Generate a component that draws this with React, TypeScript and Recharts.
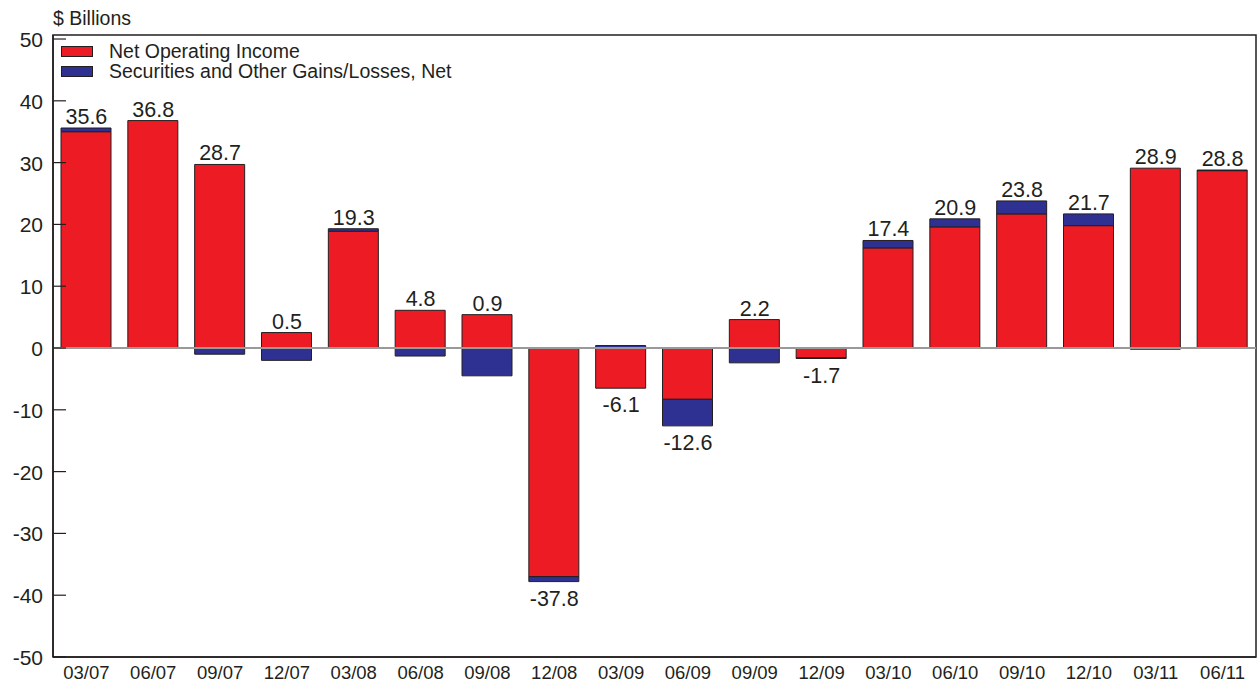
import {
  ComposedChart,
  Bar,
  Line,
  XAxis,
  YAxis,
  ReferenceLine,
  ReferenceArea,
  Legend,
} from 'recharts'

const categories = ['03/07', '06/07', '09/07', '12/07', '03/08', '06/08', '09/08', '12/08', '03/09', '06/09', '09/09', '12/09', '03/10', '06/10', '09/10', '12/10', '03/11', '06/11']
const netOperatingIncome = [35.0, 36.8, 29.7, 2.5, 18.9, 6.1, 5.4, -37.0, -6.5, -8.3, 4.6, -1.6, 16.2, 19.6, 21.7, 19.8, 29.1, 28.7]
const securitiesGains = [0.6, 0, -1.0, -2.0, 0.4, -1.3, -4.5, -0.8, 0.4, -4.3, -2.4, -0.1, 1.2, 1.3, 2.1, 1.9, -0.2, 0.1]
const totals = [35.6, 36.8, 28.7, 0.5, 19.3, 4.8, 0.9, -37.8, -6.1, -12.6, 2.2, -1.7, 17.4, 20.9, 23.8, 21.7, 28.9, 28.8]
const yTicks = [-50, -40, -30, -20, -10, 0, 10, 20, 30, 40, 50]

const RED = '#ED1C24'
const BLUE = '#2E3192'
const INK = '#231F20'
const FONT = '"Liberation Sans", Arial, Helvetica, sans-serif'
const Y_MAX = 50.65

// label sits on the end of the stack on the side of the total
const chartData = categories.map((name, i) => {
  const a = netOperatingIncome[i]
  const b = securitiesGains[i]
  const pos = Math.max(a, 0) + Math.max(b, 0)
  const neg = Math.min(a, 0) + Math.min(b, 0)
  return {
    name,
    noi: a,
    sec: b,
    total: totals[i],
    labelPos: totals[i] >= 0 ? pos : neg,
  }
})

const YTick = (props: any) => {
  const { x, y, payload } = props
  return (
    <g>
      <line x1={x + 10} x2={x + 23} y1={y} y2={y} stroke={INK} strokeWidth={1.2} />
      <text x={x} y={y} dy={8} textAnchor="end" fontSize={21} fill={INK} fontFamily={FONT}>
        {payload.value}
      </text>
    </g>
  )
}

const TotalLabel = (props: any) => {
  const { x, y, index } = props
  const t = totals[index]
  return (
    <text
      x={x}
      y={t >= 0 ? y - 4 : y + 24}
      textAnchor="middle"
      fontSize={21.5}
      fill={INK}
      fontFamily={FONT}
    >
      {t.toFixed(1)}
    </text>
  )
}

const legendItems = [
  { label: 'Net Operating Income', color: RED },
  { label: 'Securities and Other Gains/Losses, Net', color: BLUE },
]

const LegendBox = () => (
  <div style={{ fontFamily: FONT, fontSize: 19.5, color: INK, lineHeight: '20px' }}>
    {legendItems.map((item) => (
      <div key={item.label} style={{ display: 'flex', alignItems: 'center' }}>
        <span
          style={{
            display: 'inline-block',
            width: 30,
            height: 9,
            background: item.color,
            border: `1px solid ${INK}`,
            marginRight: 16,
          }}
        />
        {item.label}
      </div>
    ))}
  </div>
)

export default function App() {
  return (
    <div style={{ position: 'absolute', left: 0, top: 0, width: 1257, height: 683, background: '#fff' }}>
      <div
        style={{
          position: 'absolute',
          left: 53,
          top: 7,
          fontFamily: FONT,
          fontSize: 19.5,
          color: INK,
        }}
      >
        $ Billions
      </div>
      <ComposedChart
        width={1257}
        height={683}
        data={chartData}
        stackOffset="sign"
        margin={{ top: 35, right: 1, bottom: 0, left: 0 }}
        barSize={50}
      >
        <XAxis
          dataKey="name"
          height={26}
          tickLine={false}
          tickMargin={3}
          axisLine={{ stroke: INK, strokeWidth: 1.5 }}
          tick={{ fill: INK, fontSize: 18.5, fontFamily: FONT }}
          interval={0}
        />
        <YAxis
          width={53}
          type="number"
          domain={[-50, Y_MAX]}
          ticks={yTicks}
          tickSize={0}
          tickMargin={10}
          tickLine={false}
          allowDataOverflow
          axisLine={{ stroke: INK, strokeWidth: 1.5 }}
          tick={<YTick />}
        />
        <ReferenceArea y1={-50} y2={Y_MAX} fill="none" stroke={INK} strokeWidth={1.5} ifOverflow="visible" />
        <ReferenceLine y={0} stroke="#999999" strokeWidth={2} />
        <Bar dataKey="noi" stackId="a" fill={RED} stroke={INK} strokeWidth={1} isAnimationActive={false} />
        <Bar dataKey="sec" stackId="a" fill={BLUE} stroke={INK} strokeWidth={1} isAnimationActive={false} />
        <Line
          dataKey="labelPos"
          stroke="none"
          dot={false}
          activeDot={false}
          label={<TotalLabel />}
          isAnimationActive={false}
        />
        <Legend
          layout="vertical"
          align="center"
          verticalAlign="middle"
          wrapperStyle={{ top: 41, left: 61, width: 'auto' }}
          content={<LegendBox />}
        />
      </ComposedChart>
    </div>
  )
}
